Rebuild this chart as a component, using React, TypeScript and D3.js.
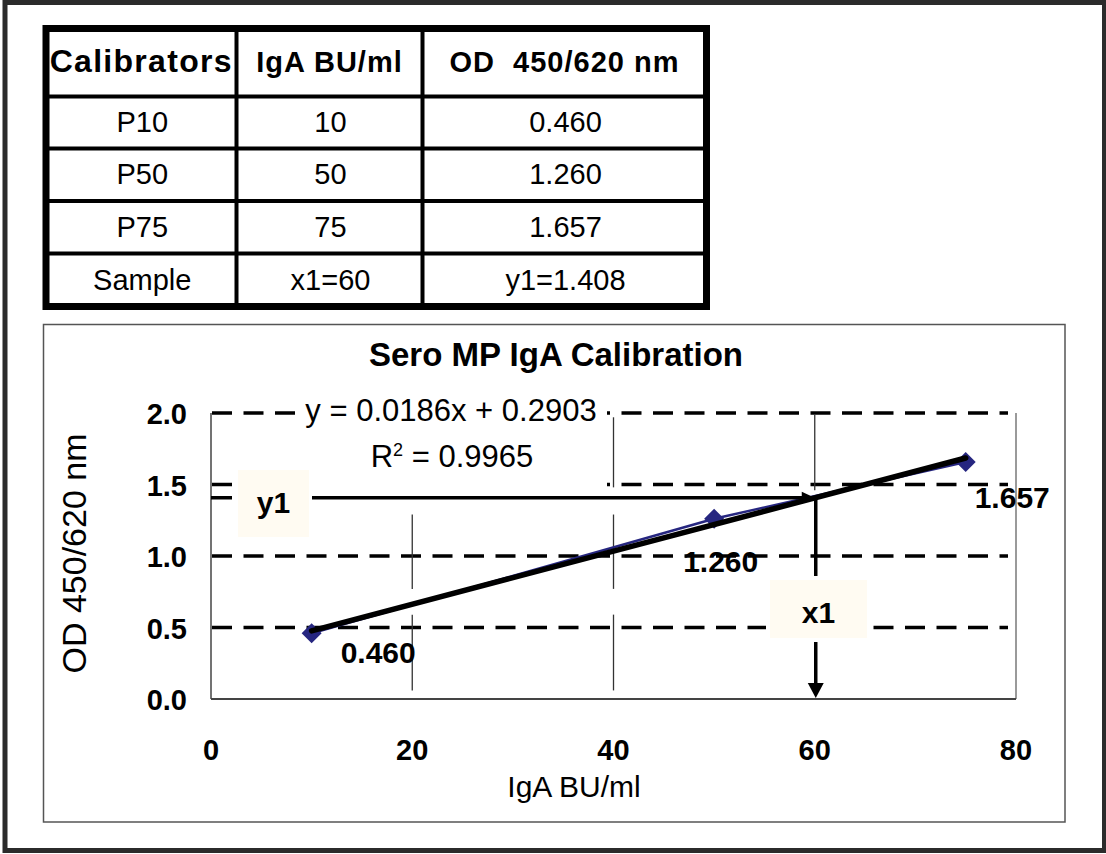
import React from "react";
import * as d3 from "d3";

// table + chart values
const headers = ["Calibrators", "IgA BU/ml", "OD  450/620 nm"];
const calibrators = ["P10", "P50", "P75"];
const concentrations = [10, 50, 75];
const odValues = [0.46, 1.26, 1.657];
const odLabels = ["0.460", "1.260", "1.657"];
const sampleName = "Sample";
const sampleX = 60;
const sampleY = 1.408;
const fitSlope = 0.0186;
const fitIntercept = 0.2903;
const fitR2 = 0.9965;
const xTicks = [0, 20, 40, 60, 80];
const yTicks = [0, 0.5, 1, 1.5, 2];
const dashedLevels = [0.5, 1, 1.5, 2];
// vertical grid pieces, as drawn in the original (broken segments)
const gridPieces = [
  { x: 20, from: 0.06, to: 0.59 },
  { x: 20, from: 0.77, to: 1.29 },
  { x: 40, from: 0.06, to: 0.59 },
  { x: 40, from: 0.77, to: 1.29 },
  { x: 40, from: 1.48, to: 1.97 },
  { x: 60, from: 1.46, to: 1.99 },
];

const FONT = "'Liberation Sans', Arial, Helvetica, sans-serif";
const W = 1106;
const H = 854;

// label placement next to each point (px)
const labelShift = [
  [29, 30],
  [-31, 53],
  [9, 46],
];

const App = () => {
  const x = d3.scaleLinear().domain([0, 80]).range([211, 1016]);
  const y = d3.scaleLinear().domain([0, 2]).range([699, 413]);

  const seriesLine = d3
    .line<number>()
    .x((_, i) => x(concentrations[i]))
    .y((d) => y(d))(odValues);

  const fitExtent = d3.extent(concentrations) as [number, number];
  const fitLine = d3
    .line<number>()
    .x((d) => x(d))
    .y((d) => y(fitSlope * d + fitIntercept))(fitExtent);

  // square diamond marker
  const r = 10;
  const diamond = `M0,${-r}L${r},0L0,${r}L${-r},0Z`;

  // table layout
  const colEdges = [46, 236.5, 422.5, 706.5];
  const rowEdges = [28.5, 96.5, 148.5, 201, 253.5, 306.5];
  const rows = [
    ...calibrators.map((c, i) => [c, String(concentrations[i]), odLabels[i]]),
    [sampleName, `x1=${sampleX}`, `y1=${sampleY.toFixed(3)}`],
  ];

  const sx = x(sampleX);
  const sy = y(sampleY);
  const x0 = x(0);
  const yBottom = y(0);

  return (
    <svg
      width={W}
      height={H}
      style={{ position: "absolute", left: 0, top: 0, background: "#fff" }}
      fontFamily={FONT}
    >
      {/* outer frame */}
      <rect x={5} y={2.5} width={1099.5} height={848} fill="#fff" stroke="#2b2b2b" strokeWidth={5} />

      {/* table */}
      <g>
        {rowEdges.slice(1, -1).map((r, i) => (
          <line key={"r" + i} x1={colEdges[0]} x2={colEdges[3]} y1={r} y2={r} stroke="#000" strokeWidth={4} />
        ))}
        {colEdges.slice(1, -1).map((c, i) => (
          <line key={"c" + i} x1={c} x2={c} y1={rowEdges[0]} y2={rowEdges[5]} stroke="#000" strokeWidth={4} />
        ))}
        <rect
          x={colEdges[0]}
          y={rowEdges[0]}
          width={colEdges[3] - colEdges[0]}
          height={rowEdges[5] - rowEdges[0]}
          fill="none"
          stroke="#000"
          strokeWidth={7}
        />
        {headers.map((h, j) => (
          <text
            key={"h" + j}
            x={(colEdges[j] + colEdges[j + 1]) / 2}
            y={72}
            textAnchor="middle"
            fontSize={j === 0 ? 32 : 29}
            fontWeight="bold"
            style={{ whiteSpace: "pre" }}
            letterSpacing={j === 0 ? 1.3 : 1}
          >
            {h}
          </text>
        ))}
        {rows.map((row, i) =>
          row.map((cell, j) => (
            <text
              key={`t${i}-${j}`}
              x={(colEdges[j] + colEdges[j + 1]) / 2 + 1}
              y={(rowEdges[i + 1] + rowEdges[i + 2]) / 2 + 9.5}
              textAnchor="middle"
              fontSize={29}
            >
              {cell}
            </text>
          ))
        )}
      </g>

      {/* chart box */}
      <rect x={43.5} y={324.5} width={1021.5} height={497.5} fill="#fff" stroke="#555" strokeWidth={1.5} />

      <text x={556} y={366} textAnchor="middle" fontSize={33} fontWeight="bold">
        Sero MP IgA Calibration
      </text>

      {/* dashed horizontal grid */}
      {dashedLevels.map((v) => (
        <line
          key={"g" + v}
          x1={x0 + 1}
          x2={x(80) - 8}
          y1={y(v)}
          y2={y(v)}
          stroke="#000"
          strokeWidth={3.5}
          strokeDasharray="20 11.5"
        />
      ))}
      {/* vertical grid pieces */}
      {gridPieces.map((g, i) => (
        <line key={"v" + i} x1={x(g.x)} x2={x(g.x)} y1={y(g.to)} y2={y(g.from)} stroke="#333" strokeWidth={1.3} />
      ))}

      {/* plot frame */}
      <line x1={x(80)} x2={x(80)} y1={y(2)} y2={yBottom} stroke="#9a9a9a" strokeWidth={2} />
      <line x1={x0} x2={x0} y1={y(2)} y2={yBottom} stroke="#444" strokeWidth={1.5} />
      <line x1={x0} x2={x(80)} y1={yBottom} y2={yBottom} stroke="#444" strokeWidth={2} />

      {/* trendline equation */}
      <rect x={298} y={398} width={309} height={94} fill="#fff" />
      <text x={451} y={421} textAnchor="middle" fontSize={31}>
        {`y = ${fitSlope}x + ${fitIntercept}`}
      </text>
      <text x={452} y={467} textAnchor="middle" fontSize={31}>
        R<tspan fontSize={18} dy={-11}>2</tspan>
        <tspan dy={11}>{` = ${fitR2}`}</tspan>
      </text>

      {/* series */}
      <path d={seriesLine ?? ""} fill="none" stroke="#262680" strokeWidth={2.5} />
      {odValues.map((v, i) => (
        <path key={"d" + i} d={diamond} transform={`translate(${x(concentrations[i])},${y(v)})`} fill="#262680" />
      ))}
      <path d={fitLine ?? ""} fill="none" stroke="#000" strokeWidth={5.5} strokeLinecap="round" />

      {/* y1 arrow */}
      <line x1={x0} x2={sx - 10} y1={sy} y2={sy} stroke="#000" strokeWidth={3.5} />
      <path d={`M${sx},${sy} L${sx - 13},${sy - 6} L${sx - 13},${sy + 6} Z`} fill="#000" />
      {/* x1 arrow */}
      <line x1={sx + 1} x2={sx + 1} y1={sy} y2={yBottom - 12} stroke="#000" strokeWidth={3.5} />
      <path d={`M${sx + 1},${yBottom - 1} L${sx - 7},${yBottom - 16} L${sx + 9},${yBottom - 16} Z`} fill="#000" />

      <rect x={232} y={467} width={80} height={73} fill="#fff" />
      <rect x={238} y={470} width={71} height={67} fill="#fffbf2" />
      <text x={273.5} y={513} textAnchor="middle" fontSize={30} fontWeight="bold">
        y1
      </text>
      <rect x={766} y={576} width={105} height={66} fill="#fff" />
      <rect x={770} y={580} width={97} height={58} fill="#fffbf2" />
      <text x={818.5} y={623} textAnchor="middle" fontSize={30} fontWeight="bold">
        x1
      </text>

      {/* data labels */}
      {odValues.map((v, i) => (
        <text
          key={"l" + i}
          x={x(concentrations[i]) + labelShift[i][0]}
          y={y(v) + labelShift[i][1]}
          fontSize={30}
          fontWeight="bold"
        >
          {odLabels[i]}
        </text>
      ))}

      {/* axes labels */}
      {yTicks.map((t) => (
        <text key={"yt" + t} x={187} y={y(t) + 11} textAnchor="end" fontSize={29} fontWeight="bold">
          {t.toFixed(1)}
        </text>
      ))}
      {xTicks.map((t) => (
        <text key={"xt" + t} x={x(t)} y={760} textAnchor="middle" fontSize={29} fontWeight="bold">
          {t}
        </text>
      ))}
      <text x={574} y={797} textAnchor="middle" fontSize={30}>
        IgA BU/ml
      </text>
      <text transform="translate(86,553.5) rotate(-90)" textAnchor="middle" fontSize={34}>
        OD 450/620 nm
      </text>
    </svg>
  );
};

export default App;
